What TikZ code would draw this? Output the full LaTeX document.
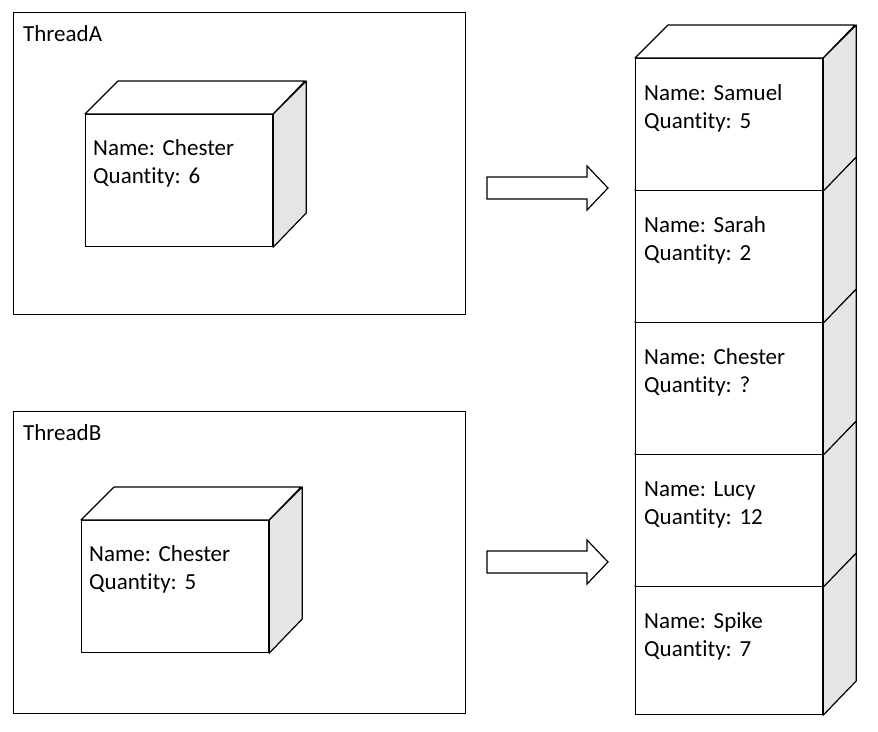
\documentclass[tikz,border=0pt]{standalone}
\usepackage{fontspec}
\setmainfont{Carlito}[Ligatures=NoCommon]
\frenchspacing
\usetikzlibrary{positioning,calc}

\tikzset{
    thread/.style={draw, minimum width=452pt, minimum height=302pt, inner sep=0pt, line width=1.2pt},
    front/.style={draw, fill=white, minimum width=187pt, minimum height=132pt, inner sep=0pt, line width=1.2pt},
    face/.style={draw, fill=white, line width=1.2pt, line join=round},
    side/.style={draw, fill=gray!20, line width=1.2pt, line join=round},
    info/.style={anchor=base west, align=left, text width=175pt, inner sep=0pt,
        font=\fontsize{23}{28}\selectfont},
    move/.style={draw, fill=white, line width=1.2pt, line join=miter},
}

\begin{document}
\begin{tikzpicture}[x=1pt, y=-1pt]
\useasboundingbox (0,0) rectangle (878,731);

% threads
\node[thread, anchor=north west] (tA) at (13,12) {};
\node[info, anchor=base west] (tA-name) at ($(tA.north west)+(10,29)$) {ThreadA};
\node[thread, anchor=north west] (tB) at (13,411) {};
\node[info, anchor=base west] (tB-name) at ($(tB.north west)+(10,29)$) {ThreadB};

% local copies
\foreach \c/\x/\y/\qty in {A/85/114/6, B/81/520/5} {
    \node[front, anchor=north west] (cube\c) at (\x,\y) {};
    \draw[face] (cube\c.north west) -- ++(33,-33) -- ++(187,0) -- (cube\c.north east) -- cycle;
    \draw[side] (cube\c.north east) -- ++(33,-33) -- ++(0,132) -- (cube\c.south east) -- cycle;
    \node[info] (cube\c-txt) at ($(cube\c.north west)+(8,41)$) {Name: Chester\\Quantity: \qty};
}

% shared list, drawn from the bottom up (last cell a little shorter)
\foreach \n/\who/\qty/\h in {5/Spike/7/128, 4/Lucy/12/132, 3/Chester/?/132, 2/Sarah/2/132, 1/Samuel/5/132} {
    \node[front, anchor=north west, minimum height=\h pt] (s\n) at (635,{58+(\n-1)*132}) {};
    \draw[face] (s\n.north west) -- ++(33,-33) -- ++(187,0) -- (s\n.north east) -- cycle;
    \draw[side] (s\n.north east) -- ++(33,-33) -- ++(0,\h) -- (s\n.south east) -- cycle;
    \node[info] (s\n-txt) at ($(s\n.north west)+(9,42)$) {Name: \who\\Quantity: \qty};
}

% block arrows
\coordinate (aA) at (487,177);
\coordinate (aB) at (487,551);
\foreach \a in {aA, aB}
    \draw[move] (\a) -- ++(100,0) -- ++(0,-11) -- ++(21,22) -- ++(-21,22) -- ++(0,-11) -- ++(-100,0) -- cycle;

\end{tikzpicture}
\end{document}
